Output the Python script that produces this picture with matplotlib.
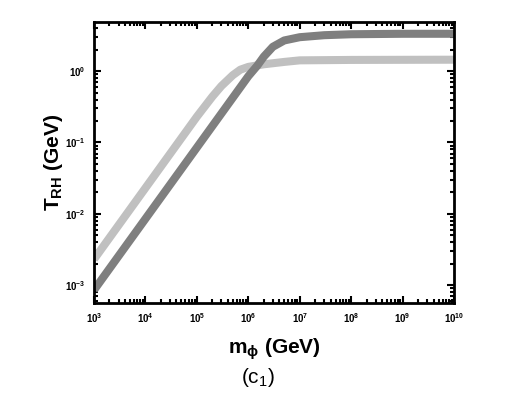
import matplotlib
matplotlib.use("Agg")
import matplotlib.pyplot as plt
import numpy as np
from matplotlib.ticker import LogLocator, NullFormatter

# values (m_phi in GeV, T_RH in GeV)
m_dark = [1e3, 1e4, 1e5, 1e6, 1.5e6, 2e6, 3e6, 5e6, 1e7, 3e7, 1e8, 1e9, 1e10]
t_dark = [8.5e-4, 8.5e-3, 8.5e-2, 0.85, 1.2, 1.6, 2.2, 2.7, 3.0, 3.2, 3.3, 3.35, 3.35]

m_light = [1e3, 1e4, 1e5, 2e5, 3e5, 5e5, 7e5, 1e6, 2e6, 5e6, 1e7, 1e8, 1e10]
t_light = [2.3e-3, 2.3e-2, 0.23, 0.44, 0.62, 0.88, 1.05, 1.15, 1.25, 1.35, 1.42, 1.44, 1.45]

plt.rcParams["font.family"] = ["Liberation Sans", "DejaVu Sans"]
plt.rcParams["mathtext.fontset"] = "custom"
plt.rcParams["mathtext.rm"] = "Liberation Sans"
plt.rcParams["mathtext.bf"] = "Liberation Sans:bold"

fig = plt.figure(figsize=(5.26, 3.93), dpi=100)
ax = fig.add_axes([0.1787, 0.229, 0.6845, 0.715])

ax.plot(m_light, t_light, color="#c0c0c0", lw=5.8, solid_capstyle="butt")
ax.plot(m_dark, t_dark, color="#7f7f7f", lw=5.8, solid_capstyle="butt")

ax.set_xscale("log")
ax.set_yscale("log")
ax.set_xlim(1e3, 1e10)
ax.set_ylim(5.6e-4, 4.9)

ax.xaxis.set_major_locator(LogLocator(base=10, numticks=20))
ax.xaxis.set_minor_locator(LogLocator(base=10, subs=np.arange(2, 10), numticks=100))
ax.yaxis.set_major_locator(LogLocator(base=10, numticks=20))
ax.yaxis.set_minor_locator(LogLocator(base=10, subs=np.arange(2, 10), numticks=100))
ax.xaxis.set_minor_formatter(NullFormatter())
ax.yaxis.set_minor_formatter(NullFormatter())

ax.tick_params(which="both", direction="in", top=True, right=True, width=1.5)
ax.tick_params(which="major", length=5, labelsize=7, pad=6)
ax.tick_params(which="minor", length=3)
for lab in ax.get_xticklabels() + ax.get_yticklabels():
    lab.set_fontweight("bold")
for sp in ax.spines.values():
    sp.set_linewidth(2)

ax.set_ylabel(r"T$_{\mathbf{RH}}$ (GeV)", fontsize=15, fontweight="bold", labelpad=0)
ax.set_xlabel(r"m$_{\mathbf{\phi}}$ (GeV)", fontsize=15, fontweight="bold", labelpad=8)
fig.text(0.4905, 0.04, r"(c$_1$)", fontsize=15, ha="center", va="center")

fig.savefig("out.png", dpi=100)
